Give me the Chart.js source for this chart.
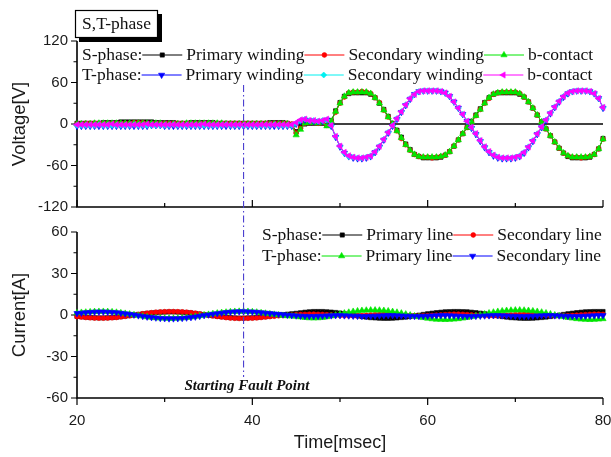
<!DOCTYPE html>
<html><head><meta charset="utf-8">
<script src="https://cdn.jsdelivr.net/npm/chart.js@4.4.0/dist/chart.umd.min.js"></script>
<style>
html,body{margin:0;padding:0;background:#fff;}
#wrap{position:relative;width:611px;height:457px;overflow:hidden;}
#wrap canvas{position:absolute;left:0;top:0;}
</style></head><body>
<div id="wrap"><canvas id="cv" width="611" height="457"></canvas><canvas id="ci" width="611" height="457"></canvas></div>
<script>
// ---- sample times: 20.0 ms to 80.0 ms every 0.5 ms ----
const tStart = 20, tStep = 0.5;
const xTicks = [20, 40, 60, 80];
const xMinor = [30, 50, 70];
const vTicks = [-120, -60, 0, 60, 120];
const vMinor = [-90, -30, 30, 90];
const iTicks = [-60, -30, 0, 30, 60];
const iMinor = [-45, -15, 15, 45];
const faultTime = 39.0;

// ---- Voltage [V] ----
const vSPrimary = [1,1,1,1,1,1,2,2,2,2, 3,3,3,3,3,3,3,3,2,2, 2,2,2,1,1,1,2,2,2,2, 2,2,1,1,1,1,1,1,1,1, 1,1,1,1,2,2,2,2,1,-1,
 -11,-4,0,1,1,1,1,-2,5,19, 31,40,44,45,45,45,45,43,38,30, 21,11,1,-9,-19,-29,-37,-44,-47,-49, -49,-49,-49,-48,-45,-40,-32,-23,-14,-5, 4,13,22,31,38,43,45,45,45,45, 45,43,39,32,23,13,3,-7,-17,-26, -35,-42,-47,-49,-49,-49,-49,-48,-44,-36, -21];
const vSSecondary = [0,0,1,1,1,1,1,1,1,1, 1,1,1,2,2,2,1,1,1,1, 1,1,1,1,1,1,1,1,1,1, 1,1,1,1,1,1,1,1,1,1, 1,1,1,1,1,1,1,1,1,0,
 -13,-6,1,2,2,1,2,-2,4,17, 30,39,45,46,46,47,46,44,38,31, 20,10,0,-10,-21,-30,-38,-44,-47,-48, -48,-49,-48,-47,-45,-40,-32,-23,-14,-5, 3,12,21,30,37,43,45,46,46,46, 46,44,39,32,23,13,3,-7,-17,-26, -35,-42,-46,-48,-48,-49,-48,-47,-44,-36, -22];
const vSBContact = [0,0,0,0,1,1,1,1,1,1, 1,1,1,1,1,1,1,1,1,1, 0,0,0,0,0,1,1,1,1,1, 1,1,1,1,0,0,0,0,0,0, 0,0,0,0,0,0,0,0,0,-2,
 -16,-8,1,2,2,1,2,-3,4,18, 30,40,45,46,46,46,46,44,38,30, 20,10,0,-10,-20,-30,-38,-44,-47,-48, -48,-48,-48,-47,-45,-40,-32,-23,-14,-5, 3,12,21,30,38,43,45,46,46,46, 46,44,39,32,23,13,3,-7,-17,-26, -35,-42,-46,-48,-48,-48,-48,-47,-44,-36, -22];
const vTPrimary = [-3,-3,-3,-3,-3,-3,-3,-3,-3,-3, -3,-3,-3,-3,-3,-3,-3,-2,-2,-2, -3,-3,-3,-3,-3,-3,-3,-3,-3,-3, -3,-3,-3,-3,-3,-3,-3,-3,-3,-3, -3,-3,-3,-3,-3,-3,-3,-3,-3,-3,
 0,4,6,5,4,4,4,6,-3,-19, -33,-42,-47,-49,-50,-50,-49,-47,-41,-33, -23,-13,-3,7,17,27,36,43,47,48, 48,48,48,47,45,40,32,23,14,4, -6,-15,-25,-34,-41,-46,-49,-50,-50,-50, -49,-47,-42,-34,-25,-15,-5,5,15,24, 32,39,44,47,48,48,48,47,44,37, 23];
const vTSecondary = [-2,-2,-2,-2,-2,-1,-2,-2,-2,-2, -2,-2,-2,-1,-2,-2,-2,-2,-2,-2, -2,-2,-1,-2,-2,-2,-2,-2,-2,-2, -2,-2,-2,-2,-1,-2,-2,-2,-2,-2, -2,-2,-2,-2,-2,-1,-2,-2,-2,-2,
 1,5,7,5,5,4,5,6,-2,-18, -32,-42,-47,-48,-49,-49,-48,-46,-40,-32, -22,-12,-2,8,18,28,37,43,47,48, 48,48,48,47,45,40,32,23,14,4, -5,-14,-24,-33,-40,-45,-48,-49,-49,-49, -48,-46,-41,-33,-24,-14,-4,6,16,25, 33,40,45,47,48,48,48,47,44,37, 24];
const vTBContact = [-1,-1,-1,-1,-1,-1,-1,-1,0,-1, -1,-1,-1,-1,-1,-1,0,-1,-1,-1, -1,-1,-1,-1,-1,-1,-1,-1,-1,0, -1,-1,-1,-1,-1,-1,-1,-1,-1,-1, -1,-1,-1,-1,-1,-1,-1,-1,-1,-1,
 2,6,7,5,5,4,5,7,-2,-18, -32,-41,-46,-48,-49,-49,-48,-46,-40,-32, -22,-12,-2,8,18,28,37,43,47,48, 48,48,48,47,45,40,32,23,14,4, -5,-14,-24,-33,-40,-45,-48,-49,-49,-49, -48,-46,-41,-33,-24,-14,-4,6,16,25, 33,40,45,47,48,48,48,47,44,37, 24];

// ---- Current [A] ----
const iSPrimary = [-1.0,-1.3,-1.6,-1.8,-2.0,-2.1,-2.1,-2.0,-1.8,-1.6, -1.2,-0.8,-0.4,0.0,0.4,0.8,1.2,1.5,1.8,2.0, 2.1,2.2,2.2,2.1,2.0,1.8,1.5,1.1,0.7,0.3, -0.1,-0.5,-0.9,-1.3,-1.6,-1.9,-2.1,-2.2,-2.2,-2.1, -2.0,-1.8,-1.5,-1.2,-0.8,-0.4,0.0,0.3,0.6,0.9,
 1.2,1.6,2.0,2.3,2.5,2.5,2.5,2.3,2.1,1.8, 1.4,0.9,0.4,-0.1,-0.6,-1.1,-1.5,-1.9,-2.1,-2.3, -2.4,-2.4,-2.3,-2.1,-1.8,-1.5,-1.1,-0.6,-0.1,0.4, 0.9,1.3,1.7,2.0,2.3,2.4,2.5,2.5,2.4,2.3, 2.0,1.7,1.3,0.9,0.4,-0.1,-0.6,-1.1,-1.5,-1.9, -2.1,-2.3,-2.4,-2.4,-2.3,-2.1,-1.8,-1.5,-1.1,-0.6, -0.1,0.4,0.9,1.3,1.7,2.0,2.3,2.4,2.5,2.5, 2.5];
const iSSecondary = [-1.2,-1.5,-1.8,-2.0,-2.2,-2.3,-2.3,-2.2,-2.0,-1.8, -1.4,-1.0,-0.6,-0.1,0.4,0.9,1.3,1.7,2.0,2.2, 2.4,2.5,2.5,2.4,2.3,2.0,1.7,1.3,0.8,0.3, -0.2,-0.7,-1.1,-1.5,-1.9,-2.2,-2.4,-2.5,-2.5,-2.4, -2.3,-2.1,-1.8,-1.5,-1.2,-0.9,-0.6,-0.4,-0.2,-0.1,
 0.2,0.4,0.5,0.6,0.6,0.5,0.4,0.2,0.0,-0.2, -0.4,-0.5,-0.6,-0.6,-0.5,-0.3,-0.1,0.1,0.3,0.5, 0.6,0.6,0.5,0.3,0.1,-0.1,-0.3,-0.5,-0.6,-0.6, -0.5,-0.3,-0.1,0.1,0.3,0.5,0.6,0.6,0.5,0.3, 0.1,-0.1,-0.3,-0.5,-0.6,-0.6,-0.5,-0.3,-0.1,0.1, 0.3,0.5,0.6,0.6,0.5,0.3,0.1,-0.1,-0.3,-0.5, -0.6,-0.6,-0.5,-0.3,-0.1,0.1,0.3,0.5,0.6,0.6, 0.5];
const iTPrimary = [1.5,1.8,2.0,2.2,2.4,2.5,2.5,2.4,2.2,1.9, 1.5,1.1,0.6,0.1,-0.4,-0.9,-1.4,-1.8,-2.1,-2.3, -2.4,-2.5,-2.5,-2.4,-2.2,-1.9,-1.5,-1.1,-0.6,-0.1, 0.4,0.9,1.3,1.7,2.0,2.3,2.5,2.6,2.6,2.5, 2.3,2.0,1.6,1.2,0.8,0.4,0.0,-0.4,-0.7,-0.9,
 -1.0,-1.5,-1.9,-2.2,-2.3,-2.2,-1.9,-1.4,-0.8,-0.1, 0.6,1.3,1.9,2.5,2.9,3.2,3.4,3.5,3.5,3.4, 3.2,2.9,2.4,1.9,1.3,0.6,-0.1,-0.8,-1.4,-2.0, -2.5,-2.9,-3.2,-3.3,-3.4,-3.3,-3.1,-2.8,-2.4,-1.9, -1.3,-0.7,0.0,0.7,1.4,2.0,2.5,2.9,3.2,3.4, 3.5,3.5,3.4,3.2,2.9,2.5,2.0,1.4,0.7,0.0, -0.7,-1.3,-1.9,-2.4,-2.8,-3.1,-3.3,-3.4,-3.3,-3.1, -2.8];
const iTSecondary = [1.2,1.5,1.8,2.0,2.2,2.3,2.3,2.2,2.0,1.8, 1.4,1.0,0.6,0.1,-0.4,-0.9,-1.3,-1.7,-2.0,-2.3, -2.5,-2.6,-2.6,-2.5,-2.3,-2.0,-1.7,-1.3,-0.8,-0.3, 0.2,0.7,1.1,1.5,1.9,2.2,2.4,2.5,2.5,2.4, 2.3,2.1,1.8,1.5,1.2,0.9,0.6,0.3,0.0,-0.3,
 -0.5,-0.7,-0.8,-0.9,-0.9,-0.8,-0.7,-0.5,-0.4,-0.3, -0.3,-0.4,-0.5,-0.7,-0.8,-0.9,-0.9,-0.8,-0.7,-0.5, -0.4,-0.3,-0.3,-0.4,-0.5,-0.7,-0.8,-0.9,-0.9,-0.8, -0.7,-0.5,-0.4,-0.3,-0.3,-0.4,-0.5,-0.7,-0.8,-0.9, -0.9,-0.8,-0.7,-0.5,-0.4,-0.3,-0.3,-0.4,-0.5,-0.7, -0.8,-0.9,-0.9,-0.8,-0.7,-0.5,-0.4,-0.3,-0.3,-0.4, -0.5,-0.7,-0.8,-0.9,-0.9,-0.8,-0.7,-0.5,-0.4,-0.3, -0.3];

// ---- styling ----
const SANS = "'Liberation Sans', Arial, sans-serif";
const SERIF = "'Liberation Serif', 'Times New Roman', serif";
const C = {black:'#000000', red:'#ff0000', green:'#00e600', blue:'#0000ff', cyan:'#00f0f0', magenta:'#ff00ff'};
const MK = {
  square:{pointStyle:'rect', rotation:0, radius:3},
  circle:{pointStyle:'circle', rotation:0, radius:2.4},
  up:{pointStyle:'triangle', rotation:0, radius:3.6},
  down:{pointStyle:'triangle', rotation:180, radius:3.6},
  diamond:{pointStyle:'rectRot', rotation:0, radius:3},
  left:{pointStyle:'triangle', rotation:270, radius:3.6}
};

function toPts(arr){ return arr.map((v,i)=>({x: tStart + i*tStep, y: v})); }
function ds(arr, color, mk, order){
  return {data: toPts(arr), borderColor: color, backgroundColor: color, borderWidth: 1,
    pointStyle: mk.pointStyle, pointRotation: mk.rotation, pointRadius: mk.radius,
    pointBackgroundColor: color, pointBorderColor: color, pointBorderWidth: 0.6,
    tension: 0, clip: false, order: order};
}
function drawMarker(ctx, mk, x, y, color){
  ctx.save(); ctx.fillStyle = color; ctx.strokeStyle = color; ctx.lineWidth = 0.6;
  if (Chart.helpers && Chart.helpers.drawPoint) {
    Chart.helpers.drawPoint(ctx, {pointStyle: mk.pointStyle, rotation: mk.rotation, radius: mk.radius, borderWidth: 0.6}, x, y);
  } else { ctx.beginPath(); ctx.arc(x, y, mk.radius, 0, Math.PI*2); ctx.fill(); }
  ctx.restore();
}
function legendRow(ctx, x0, y, items){
  ctx.font = '17.5px ' + SERIF; ctx.textBaseline = 'middle'; ctx.fillStyle = '#111';
  let x = x0;
  items.forEach((it) => {
    ctx.fillStyle = '#111'; ctx.fillText(it.text, x, y);
    x += ctx.measureText(it.text).width;
    if (it.color) {
      const len = it.len || 40;
      ctx.save(); ctx.strokeStyle = it.color; ctx.lineWidth = 1;
      ctx.beginPath(); ctx.moveTo(x, y); ctx.lineTo(x + len, y); ctx.stroke(); ctx.restore();
      drawMarker(ctx, it.mk, x + len/2, y, it.color);
      x += len + (it.gap || 4);
    }
  });
}
function drawAxes(chart, yMajor, yMinor, xDir){
  const {ctx, chartArea: a, scales: {x, y}} = chart;
  ctx.save(); ctx.strokeStyle = '#000';
  ctx.lineWidth = 1.6;
  ctx.beginPath(); ctx.moveTo(a.left, a.top); ctx.lineTo(a.left, a.bottom); ctx.lineTo(a.right, a.bottom); ctx.stroke();
  ctx.lineWidth = 1.2; ctx.beginPath();
  yMajor.forEach(v => { const p = y.getPixelForValue(v); ctx.moveTo(a.left - 6, p); ctx.lineTo(a.left, p); });
  yMinor.forEach(v => { const p = y.getPixelForValue(v); ctx.moveTo(a.left - 3.5, p); ctx.lineTo(a.left, p); });
  xTicks.forEach(v => { const p = x.getPixelForValue(v); ctx.moveTo(p, a.bottom); ctx.lineTo(p, a.bottom + 7*xDir); });
  xMinor.forEach(v => { const p = x.getPixelForValue(v); ctx.moveTo(p, a.bottom); ctx.lineTo(p, a.bottom + 4*xDir); });
  ctx.stroke(); ctx.restore();
}

// ---- top chart: voltage ----
new Chart(document.getElementById('cv'), {
  type: 'line',
  data: {datasets: [
    ds(vSPrimary, C.black, MK.square, 5),
    ds(vSSecondary, C.red, MK.circle, 4),
    ds(vSBContact, C.green, MK.up, 3),
    ds(vTPrimary, C.blue, MK.down, 2),
    ds(vTSecondary, C.cyan, MK.diamond, 1),
    ds(vTBContact, C.magenta, MK.left, 0)
  ]},
  options: {
    responsive: false, animation: false, devicePixelRatio: 1,
    layout: {padding: {left: 17, right: 8, top: 41, bottom: 250}},
    plugins: {legend: {display: false}, tooltip: {enabled: false}},
    scales: {
      x: {type: 'linear', min: 20, max: 80, display: false},
      y: {min: -120, max: 120,
          afterBuildTicks: s => { s.ticks = vTicks.map(v => ({value: v})); },
          afterFit: s => { s.width = 60; },
          grid: {display: false, drawTicks: false}, border: {display: false},
          ticks: {padding: 9, color: '#1a1a1a', font: {family: SANS, size: 15}}}
    }
  },
  plugins: [{
    id: 'topDeco',
    beforeDatasetsDraw(chart){
      const {ctx, chartArea: a, scales: {y}} = chart;
      drawAxes(chart, vTicks, vMinor, -1);
      ctx.save(); ctx.strokeStyle = '#000'; ctx.lineWidth = 1.5;
      const p0 = y.getPixelForValue(0);
      ctx.beginPath(); ctx.moveTo(a.left, p0); ctx.lineTo(a.right, p0); ctx.stroke(); ctx.restore();
    },
    afterDraw(chart){
      const ctx = chart.ctx; const a = chart.chartArea;
      ctx.save();
      ctx.fillStyle = '#000'; ctx.fillRect(79, 14, 83, 28);
      ctx.fillStyle = '#fff'; ctx.fillRect(75, 10, 82, 27);
      ctx.strokeStyle = '#000'; ctx.lineWidth = 1.2; ctx.strokeRect(75.5, 10.5, 82, 27);
      ctx.fillStyle = '#111'; ctx.font = '17.5px ' + SERIF; ctx.textAlign = 'center'; ctx.textBaseline = 'middle';
      ctx.fillText('S,T-phase', 116.5, 24.5);
      ctx.restore();
      ctx.save(); ctx.fillStyle = '#1a1a1a'; ctx.font = '18.5px ' + SANS; ctx.textAlign = 'center'; ctx.textBaseline = 'middle';
      ctx.translate(20, (a.top + a.bottom)/2); ctx.rotate(-Math.PI/2); ctx.fillText('Voltage[V]', 0, 0); ctx.restore();
      ctx.save();
      legendRow(ctx, 82, 55, [
        {text: 'S-phase:', color: C.black, mk: MK.square},
        {text: 'Primary winding', color: C.red, mk: MK.circle},
        {text: 'Secondary winding', color: C.green, mk: MK.up},
        {text: 'b-contact'}]);
      legendRow(ctx, 82, 75, [
        {text: 'T-phase:', color: C.blue, mk: MK.down},
        {text: 'Primary winding', color: C.cyan, mk: MK.diamond},
        {text: 'Secondary winding', color: C.magenta, mk: MK.left},
        {text: 'b-contact'}]);
      ctx.restore();
    }
  }]
});

// ---- bottom chart: current ----
new Chart(document.getElementById('ci'), {
  type: 'line',
  data: {datasets: [
    ds(iSPrimary, C.black, MK.square, 3),
    ds(iSSecondary, C.red, MK.circle, 2),
    ds(iTPrimary, C.green, MK.up, 1),
    ds(iTSecondary, C.blue, MK.down, 0)
  ]},
  options: {
    responsive: false, animation: false, devicePixelRatio: 1,
    layout: {padding: {left: 17, right: 8, top: 232, bottom: 19}},
    plugins: {legend: {display: false}, tooltip: {enabled: false}},
    scales: {
      x: {type: 'linear', min: 20, max: 80,
          afterBuildTicks: s => { s.ticks = xTicks.map(v => ({value: v})); },
          afterFit: s => { s.height = 40; s.paddingLeft = 0; s.paddingRight = 0; },
          grid: {display: false, drawTicks: false}, border: {display: false},
          ticks: {padding: 14, color: '#1a1a1a', maxRotation: 0, font: {family: SANS, size: 15}}},
      y: {min: -60, max: 60,
          afterBuildTicks: s => { s.ticks = iTicks.map(v => ({value: v})); },
          afterFit: s => { s.width = 60; },
          grid: {display: false, drawTicks: false}, border: {display: false},
          ticks: {padding: 9, color: '#1a1a1a', font: {family: SANS, size: 15}}}
    }
  },
  plugins: [{
    id: 'bottomDeco',
    beforeDatasetsDraw(chart){ drawAxes(chart, iTicks, iMinor, 1); },
    afterDraw(chart){
      const {ctx, chartArea: a, scales: {x}} = chart;
      const px = x.getPixelForValue(faultTime);
      ctx.save(); ctx.strokeStyle = '#4b3fd0'; ctx.lineWidth = 1.1; ctx.setLineDash([7, 3, 1.5, 3]);
      ctx.beginPath(); ctx.moveTo(px, 85); ctx.lineTo(px, 377); ctx.stroke(); ctx.restore();
      ctx.save(); ctx.fillStyle = '#111'; ctx.font = 'italic bold 15px ' + SERIF; ctx.textAlign = 'center'; ctx.textBaseline = 'middle';
      ctx.fillText('Starting Fault Point', 247, 386); ctx.restore();
      ctx.save(); ctx.fillStyle = '#1a1a1a'; ctx.font = '18px ' + SANS; ctx.textAlign = 'center'; ctx.textBaseline = 'middle';
      ctx.fillText('Time[msec]', (a.left + a.right)/2, 443);
      ctx.font = '18.5px ' + SANS;
      ctx.translate(20, (a.top + a.bottom)/2); ctx.rotate(-Math.PI/2); ctx.fillText('Current[A]', 0, 0); ctx.restore();
      ctx.save();
      legendRow(ctx, 262, 235, [
        {text: 'S-phase:', color: C.black, mk: MK.square},
        {text: 'Primary line', color: C.red, mk: MK.circle},
        {text: 'Secondary line'}]);
      legendRow(ctx, 262, 256, [
        {text: 'T-phase:', color: C.green, mk: MK.up},
        {text: 'Primary line', color: C.blue, mk: MK.down},
        {text: 'Secondary line'}]);
      ctx.restore();
    }
  }]
});
</script>
</body></html>
